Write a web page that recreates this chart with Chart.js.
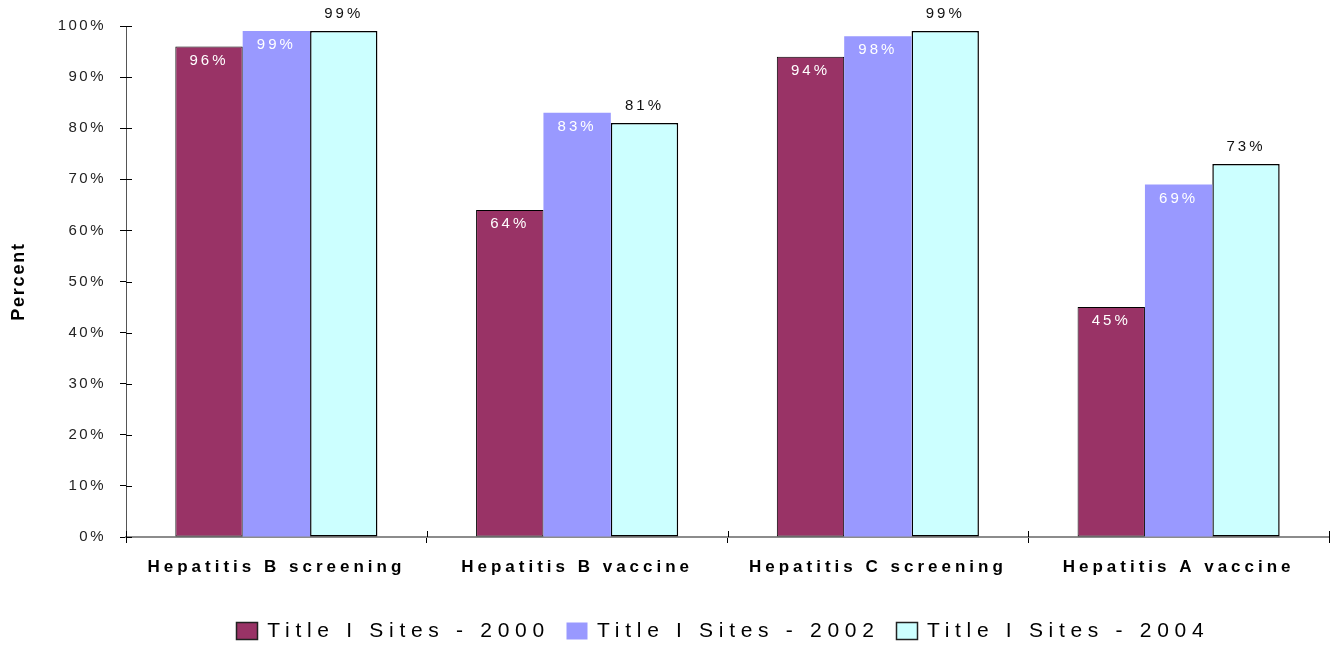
<!DOCTYPE html>
<html>
<head>
<meta charset="utf-8">
<script src="https://cdn.jsdelivr.net/npm/chart.js@4/dist/chart.umd.min.js"></script>
<style>
  html, body { margin: 0; padding: 0; background: #fff; }
  canvas { display: block; }
</style>
</head>
<body>
<canvas id="chart" width="1330" height="645"></canvas>
<script>
// ---- data ----
const categories = ['Hepatitis B screening', 'Hepatitis B vaccine', 'Hepatitis C screening', 'Hepatitis A vaccine'];
const seriesNames = ['Title I Sites - 2000', 'Title I Sites - 2002', 'Title I Sites - 2004'];
const sites2000 = [96, 64, 94, 45];
const sites2002 = [99, 83, 98, 69];
const sites2004 = [99, 81, 99, 73];
const yTickValues = [0, 10, 20, 30, 40, 50, 60, 70, 80, 90, 100];
const yAxisTitle = 'Percent';

// ---- styling ----
const FONT = "'Liberation Sans', Arial, Helvetica, sans-serif";
const seriesFill = ['#993366', '#9999FF', '#CCFFFF'];
const seriesBorder = ['#000000', '#9999FF', '#000000'];
const seriesBorderWidth = [1, 0, 1.5];

// Scales that draw their tick labels and title with extra letter spacing
function spacedScale(Base, id) {
  return class extends Base {
    static id = id;
    static defaults = {};
    drawLabels(area) {
      const ctx = this.ctx;
      ctx.save();
      ctx.letterSpacing = (this.options.ticks.spacing || 0) + 'px';
      super.drawLabels(area);
      ctx.restore();
    }
    drawTitle() {
      const ctx = this.ctx;
      ctx.save();
      ctx.letterSpacing = (this.options.title.spacing || 0) + 'px';
      super.drawTitle();
      ctx.restore();
    }
  };
}
const SpacedCategory = spacedScale(Chart.CategoryScale, 'spacedCategory');
const SpacedLinear = spacedScale(Chart.LinearScale, 'spacedLinear');
Chart.register(SpacedCategory, SpacedLinear);

// Tick marks that cross the axis lines, value labels and the legend row
const decorations = {
  id: 'decorations',
  afterDatasetsDraw(chart) {
    const ctx = chart.ctx;
    ctx.save();
    ctx.font = '15px ' + FONT;
    ctx.letterSpacing = '3px';
    ctx.textAlign = 'center';
    ctx.textBaseline = 'middle';
    chart.data.datasets.forEach((ds, di) => {
      const meta = chart.getDatasetMeta(di);
      meta.data.forEach((bar, i) => {
        const txt = ds.data[i] + '%';
        if (di === 2) {
          ctx.fillStyle = '#111111';
          ctx.fillText(txt, bar.x, bar.y - 17.5);
        } else {
          ctx.fillStyle = '#ffffff';
          ctx.fillText(txt, bar.x, bar.y + 14);
        }
      });
    });
    ctx.restore();
  },
  afterDraw(chart) {
    const ctx = chart.ctx;
    const x = chart.scales.x, y = chart.scales.y;
    const area = chart.chartArea;
    ctx.save();
    ctx.strokeStyle = '#000';
    ctx.lineWidth = 1;
    ctx.beginPath();
    // inner halves of the y-axis ticks
    y.ticks.forEach(t => {
      const py = Math.round(y.getPixelForValue(t.value)) + 0.5;
      ctx.moveTo(area.left, py);
      ctx.lineTo(area.left + 6, py);
    });
    // inner halves of the category boundary ticks
    for (let i = 0; i <= categories.length; i++) {
      const px = Math.round(x.getPixelForValue(i - 0.5)) + 0.5;
      ctx.moveTo(Math.min(px, 1329.5), area.bottom);
      ctx.lineTo(Math.min(px, 1329.5), area.bottom - 6);
      if (px > 1329) {
        ctx.moveTo(1329.5, area.bottom);
        ctx.lineTo(1329.5, area.bottom + 6);
      }
    }
    ctx.stroke();

    // legend
    const spacing = 5.7;
    ctx.font = '21px ' + FONT;
    ctx.letterSpacing = spacing + 'px';
    ctx.textBaseline = 'middle';
    ctx.textAlign = 'left';
    const boxW = 21, boxH = 17, boxGap = 10, itemGap = 22, cy = 630, centerX = 720;
    const items = chart.data.datasets.map(ds => ({ ds, w: boxW + boxGap + ctx.measureText(ds.label).width - spacing }));
    const total = items.reduce((s, it) => s + it.w, 0) + itemGap * (items.length - 1);
    let cx = centerX - total / 2;
    items.forEach(({ ds, w }) => {
      const bx = Math.round(cx) + 0.5, by = Math.round(cy - boxH / 2) + 0.5;
      ctx.fillStyle = ds.backgroundColor;
      ctx.fillRect(bx, by, boxW, boxH);
      if (ds.borderWidth > 0) {
        ctx.strokeStyle = '#222';
        ctx.lineWidth = 1.5;
        ctx.strokeRect(bx, by, boxW, boxH);
      }
      ctx.fillStyle = '#000';
      ctx.fillText(ds.label, cx + boxW + boxGap, cy + 1);
      cx += w + itemGap;
    });
    ctx.restore();
  }
};

const datasets = [sites2000, sites2002, sites2004].map((values, i) => ({
  label: seriesNames[i],
  data: values,
  backgroundColor: seriesFill[i],
  borderColor: seriesBorder[i],
  borderWidth: seriesBorderWidth[i],
  borderSkipped: false,
  categoryPercentage: 0.672,
  barPercentage: 1.0
}));

new Chart(document.getElementById('chart'), {
  type: 'bar',
  data: { labels: categories, datasets },
  options: {
    responsive: false,
    animation: false,
    devicePixelRatio: 1,
    layout: { padding: { left: 0, right: 1, top: 26, bottom: 68 } },
    plugins: {
      legend: { display: false },
      tooltip: { enabled: false }
    },
    scales: {
      x: {
        type: 'spacedCategory',
        offset: true,
        grid: { display: true, offset: true, drawOnChartArea: false, drawTicks: true, tickLength: 6, color: '#000', lineWidth: 1 },
        border: { display: true, color: '#8c8c8c', width: 2 },
        ticks: {
          font: { family: FONT, size: 17, weight: 'bold' },
          color: '#000',
          spacing: 4,
          padding: 14,
          maxRotation: 0,
          autoSkip: false
        },
        afterFit(scale) { scale.height = 40; }
      },
      y: {
        type: 'spacedLinear',
        min: 0,
        max: 100,
        afterBuildTicks(scale) { scale.ticks = yTickValues.map(v => ({ value: v })); },
        grid: { display: true, drawOnChartArea: false, drawTicks: true, tickLength: 6, color: '#000', lineWidth: 1 },
        border: { display: true, color: '#555', width: 1 },
        ticks: {
          font: { family: FONT, size: 15 },
          color: '#222',
          spacing: 2.5,
          padding: 14,
          callback: v => v + '%'
        },
        title: {
          display: true,
          text: yAxisTitle,
          font: { family: FONT, size: 18, weight: 'bold' },
          color: '#000',
          spacing: 1.8,
          padding: { top: 8, bottom: 0 }
        },
        afterFit(scale) { scale.width = 126; }
      }
    }
  },
  plugins: [decorations]
});
</script>
</body>
</html>
